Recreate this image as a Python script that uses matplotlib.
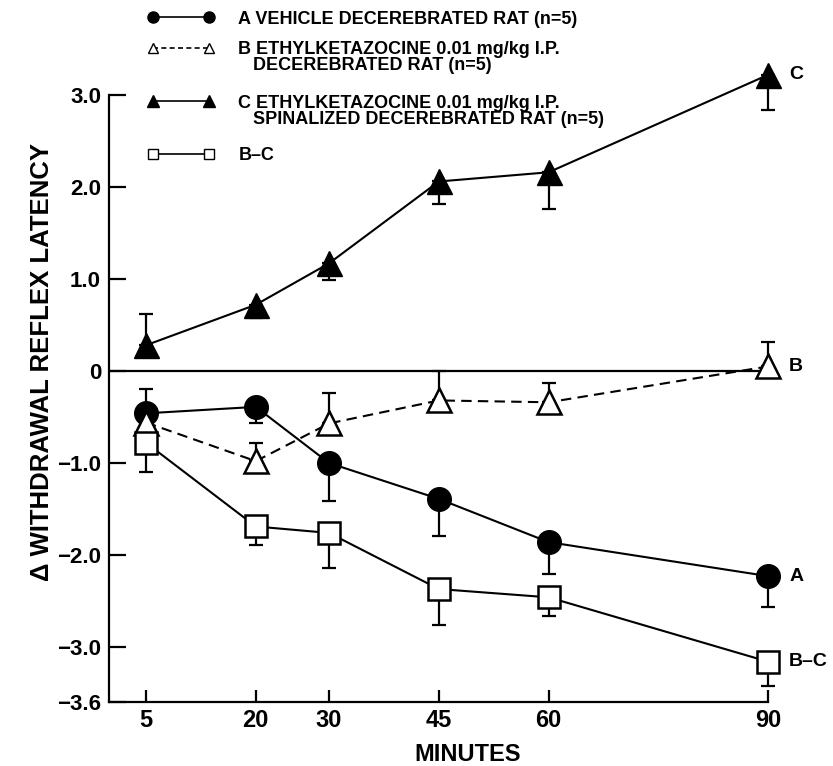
import matplotlib
matplotlib.use('Agg')
import matplotlib.pyplot as plt
from matplotlib.lines import Line2D

# ---- data ----
minutes = [5, 20, 30, 45, 60, 90]

vehicle_A = [-0.46, -0.39, -1.00, -1.39, -1.86, -2.23]
vehicle_A_err_low = [0.00, 0.18, 0.41, 0.40, 0.35, 0.34]
vehicle_A_err_high = [0.26, 0.00, 0.00, 0.00, 0.00, 0.00]

ekc_B = [-0.56, -0.98, -0.57, -0.32, -0.34, 0.05]
ekc_B_err_low = [0.12, 0.00, 0.00, 0.00, 0.00, 0.00]
ekc_B_err_high = [0.00, 0.20, 0.33, 0.32, 0.21, 0.26]

ekc_C = [0.28, 0.72, 1.17, 2.06, 2.16, 3.22]
ekc_C_err_low = [0.00, 0.14, 0.18, 0.25, 0.40, 0.38]
ekc_C_err_high = [0.34, 0.00, 0.00, 0.00, 0.00, 0.00]

diff_BC = [-0.78, -1.69, -1.76, -2.37, -2.46, -3.16]
diff_BC_err_low = [0.32, 0.20, 0.38, 0.39, 0.20, 0.26]
diff_BC_err_high = [0.00, 0.00, 0.00, 0.00, 0.00, 0.00]

ytick_vals = [3.0, 2.0, 1.0, 0.0, -1.0, -2.0, -3.0, -3.6]
ytick_labels = ['3.0', '2.0', '1.0', '0', '\u22121.0', '\u22122.0', '\u22123.0', '\u22123.6']
xtick_labels = ['5', '20', '30', '45', '60', '90']

legend_lines = ['A VEHICLE DECEREBRATED RAT (n=5)',
                'B ETHYLKETAZOCINE 0.01 mg/kg I.P.',
                '   DECEREBRATED RAT (n=5)',
                'C ETHYLKETAZOCINE 0.01 mg/kg I.P.',
                '   SPINALIZED DECEREBRATED RAT (n=5)',
                'B\u2013C']
end_labels = ['A', 'B', 'C', 'B\u2013C']

# ---- style ----
FONT = 'Liberation Sans'
plt.rcParams['font.family'] = [FONT, 'DejaVu Sans']
plt.rcParams['font.weight'] = 'bold'

W, H = 833, 766
fig = plt.figure(figsize=(W / 100, H / 100), dpi=100)
ax = fig.add_axes([109.4 / W, (H - 702.2) / H, 717.4 / W, 699.2 / H])
ax.set_xlim(0, 98)
ax.set_ylim(-3.6, 4.0)

LW = 1.5
for y, lo, hi in [(vehicle_A, vehicle_A_err_low, vehicle_A_err_high),
                  (ekc_B, ekc_B_err_low, ekc_B_err_high),
                  (ekc_C, ekc_C_err_low, ekc_C_err_high),
                  (diff_BC, diff_BC_err_low, diff_BC_err_high)]:
    ax.errorbar(minutes, y, yerr=[lo, hi], fmt='none', ecolor='black',
                elinewidth=1.6, capsize=5, capthick=1.6, zorder=2)

ax.hlines(0, 0, minutes[-1], color='black', lw=1.6, zorder=1)

ax.plot(minutes, vehicle_A, color='black', lw=LW, marker='o', ms=17,
        mfc='black', mec='black', zorder=4)
ax.plot(minutes, ekc_B, color='black', lw=LW, ls=(0, (5, 3)), marker='^', ms=17,
        mfc='white', mec='black', mew=1.8, zorder=4)
ax.plot(minutes, ekc_C, color='black', lw=LW, marker='^', ms=18,
        mfc='black', mec='black', zorder=4)
ax.plot(minutes, diff_BC, color='black', lw=LW, marker='s', ms=15.5,
        mfc='white', mec='black', mew=1.8, zorder=4)

for lab, series in zip(end_labels, [vehicle_A, ekc_B, ekc_C, diff_BC]):
    ax.annotate(lab, xy=(minutes[-1], series[-1]), xytext=(15, 0),
                textcoords='offset points', ha='left', va='center',
                fontsize=14, fontweight='bold')

for s in ['top', 'right']:
    ax.spines[s].set_visible(False)
ax.spines['left'].set_bounds(-3.6, 3.0)
ax.spines['bottom'].set_bounds(0, minutes[-1])
ax.spines['left'].set_linewidth(1.6)
ax.spines['bottom'].set_linewidth(1.6)

ax.set_yticks(ytick_vals)
ax.set_yticklabels(ytick_labels)
ax.set_xticks(minutes)
ax.set_xticklabels(xtick_labels)
ax.tick_params(axis='y', direction='in', length=12, width=1.6, pad=6, labelsize=16)
ax.tick_params(axis='x', direction='in', length=9, width=1.6, pad=5, labelsize=17)
for t in ax.get_xticklabels() + ax.get_yticklabels():
    t.set_fontweight('bold')

ax.set_xlabel('MINUTES', fontsize=17, fontweight='bold', labelpad=8)
ax.set_ylabel('\u0394 WITHDRAWAL REFLEX LATENCY', fontsize=18.5, fontweight='bold')
ax.yaxis.label.set_va('center')
ax.yaxis.set_label_coords((42 - 109.4) / 717.4, (702.2 - 362) / 699.2)

# legend: one legend per text line so the handles sit on the first line
blank = Line2D([], [], ls='none')
hA = Line2D([], [], color='black', lw=1.2, marker='o', ms=8, mfc='black')
hB = Line2D([], [], color='black', lw=1.2, ls=(0, (3, 2)), marker='^', ms=7,
            mfc='white', mew=1.0)
hC = Line2D([], [], color='black', lw=1.2, marker='^', ms=8, mfc='black')
hBC = Line2D([], [], color='black', lw=1.2, marker='s', ms=7, mfc='white', mew=1.0)
leg_handles = [hA, hB, blank, hC, blank, hBC]
leg_rows_px = [19, 50, 66, 103, 119, 156]
for h, lab, ypx in zip(leg_handles, legend_lines, leg_rows_px):
    fig.legend([h], [lab], loc='center left',
               bbox_to_anchor=(148 / W, 1 - ypx / H), bbox_transform=fig.transFigure,
               frameon=False, numpoints=2, handlelength=3.7, handletextpad=1.3,
               borderpad=0, borderaxespad=0,
               prop={'family': FONT, 'weight': 'bold', 'size': 13})

fig.savefig('out.png', dpi=100)
